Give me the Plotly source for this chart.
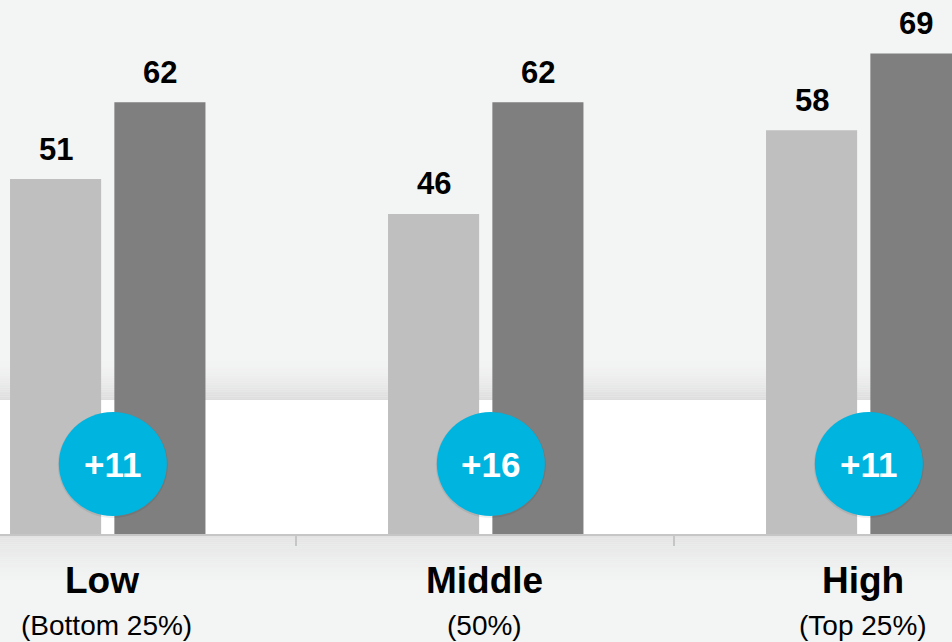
import plotly.graph_objects as go

# Income groups and scores for the two periods
categories = ["Low", "Middle", "High"]
subtitles = ["(Bottom 25%)", "(50%)", "(Top 25%)"]
score_before = [51, 46, 58]
score_after = [62, 62, 69]
gain_labels = ["+11", "+16", "+11"]

W, H = 952, 642
FONT = "Liberation Sans"
BASE_PX = 535          # pixel row of the zero line
PX_PER_UNIT = 6.98     # vertical pixels per score point
CAT_PX = 378.0         # horizontal pixels between category centres
FIRST_CAT_PX = 106.8   # pixel column of the first category centre

BG = "#f3f4f4"
LIGHT = "#bfbfbf"
DARK = "#7f7f7f"
CYAN = "#00b4e0"

BAR_W = 0.241
OFF_LIGHT = -0.256
OFF_DARK = 0.02


def py(px):
    """pixel row -> paper fraction"""
    return (H - px) / H


def blend(c1, c2, t):
    a = [int(c1[i:i + 2], 16) for i in (1, 3, 5)]
    b = [int(c2[i:i + 2], 16) for i in (1, 3, 5)]
    return "rgb(%d,%d,%d)" % tuple(round(a[k] + (b[k] - a[k]) * t) for k in range(3))


xs = list(range(len(categories)))

fig = go.Figure()
fig.add_trace(go.Bar(x=xs, y=score_before, width=BAR_W, offset=OFF_LIGHT,
                     marker=dict(color=LIGHT, line=dict(width=0)),
                     hoverinfo="skip", showlegend=False))
fig.add_trace(go.Bar(x=xs, y=score_after, width=BAR_W, offset=OFF_DARK,
                     marker=dict(color=DARK, line=dict(width=0)),
                     hoverinfo="skip", showlegend=False))

shapes = []
# white band behind the lower part of the bars
shapes.append(dict(type="rect", xref="paper", yref="paper", x0=0, x1=1,
                   y0=py(BASE_PX), y1=py(400), fillcolor="white",
                   line=dict(width=0), layer="below"))
# soft shadow above the white band
steps = 24
top, bot = 358, 400
for k in range(steps):
    t = (k + 1) / steps
    y0 = top + (bot - top) * k / steps
    y1 = top + (bot - top) * (k + 1) / steps
    shapes.append(dict(type="rect", xref="paper", yref="paper", x0=0, x1=1,
                       y0=py(y1), y1=py(y0), fillcolor=blend(BG, "#dddddd", t ** 1.8),
                       line=dict(width=0), layer="below"))
# shading under the baseline
top, bot = BASE_PX, 580
for k in range(steps):
    t = k / steps
    y0 = top + (bot - top) * k / steps
    y1 = top + (bot - top) * (k + 1) / steps
    shapes.append(dict(type="rect", xref="paper", yref="paper", x0=0, x1=1,
                       y0=py(y1), y1=py(y0), fillcolor=blend("#e3e3e3", BG, t ** 0.8),
                       line=dict(width=0), layer="below"))

# badges with the gain between the two bars
badge_y = py(464)
badge_dx = 0.016
for i in xs:
    shapes.append(dict(type="circle", xref="x", yref="paper",
                       xsizemode="pixel", ysizemode="pixel",
                       xanchor=i + badge_dx, yanchor=badge_y,
                       x0=-55, x1=55, y0=-54, y1=52,
                       fillcolor="rgba(0,0,0,0.07)", line=dict(width=0)))
    shapes.append(dict(type="circle", xref="x", yref="paper",
                       xsizemode="pixel", ysizemode="pixel",
                       xanchor=i + badge_dx, yanchor=badge_y,
                       x0=-54, x1=54, y0=-52, y1=52,
                       fillcolor=CYAN, line=dict(width=0)))

annotations = []
for i in xs:
    annotations.append(dict(x=i + badge_dx, y=badge_y, xref="x", yref="paper",
                            text=gain_labels[i], showarrow=False,
                            xanchor="center", yanchor="middle",
                            font=dict(family=FONT, size=35, color="white", weight="bold")))
    annotations.append(dict(x=i + OFF_LIGHT + BAR_W / 2, y=score_before[i],
                            xref="x", yref="y", text=str(score_before[i]),
                            showarrow=False, yanchor="middle", yshift=30,
                            font=dict(family=FONT, size=31, color="black", weight="bold")))
    annotations.append(dict(x=i + OFF_DARK + BAR_W / 2, y=score_after[i],
                            xref="x", yref="y", text=str(score_after[i]),
                            showarrow=False, yanchor="middle", yshift=30,
                            font=dict(family=FONT, size=31, color="black", weight="bold")))
    annotations.append(dict(x=i, y=py(580), xref="x", yref="paper",
                            text=categories[i], showarrow=False, yanchor="middle",
                            xshift=-5 if i == 0 else 0,
                            font=dict(family=FONT, size=37, color="black", weight="bold")))
    annotations.append(dict(x=i, y=py(625), xref="x", yref="paper",
                            text=subtitles[i], showarrow=False, yanchor="middle",
                            font=dict(family=FONT, size=28, color="black")))

x_lo = -FIRST_CAT_PX / CAT_PX
x_hi = (W - FIRST_CAT_PX) / CAT_PX
y_lo = -(H - BASE_PX) / PX_PER_UNIT
y_hi = BASE_PX / PX_PER_UNIT

fig.update_layout(
    width=W, height=H,
    margin=dict(l=0, r=0, t=0, b=0),
    paper_bgcolor=BG, plot_bgcolor="rgba(0,0,0,0)",
    barmode="overlay",
    shapes=shapes, annotations=annotations,
    xaxis=dict(range=[x_lo, x_hi], showgrid=False, zeroline=False,
               anchor="free", position=py(BASE_PX),
               showline=True, linecolor="#c6c6c6", linewidth=2,
               tickvals=[0.5, 1.5], ticktext=["", ""],
               ticks="outside", ticklen=10, tickwidth=2, tickcolor="#c6c6c6",
               fixedrange=True),
    yaxis=dict(range=[y_lo, y_hi], visible=False, fixedrange=True),
)

fig.write_html("out.html")
